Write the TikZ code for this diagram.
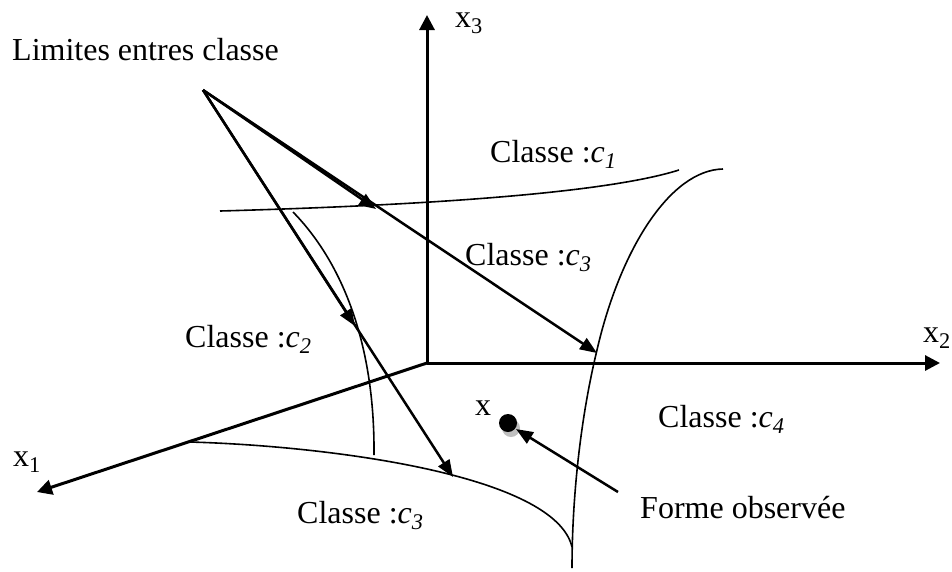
\documentclass[tikz,border=0pt]{standalone}
\usepackage{fontspec}
\setmainfont{Liberation Serif}
\usetikzlibrary{arrows.meta}
\begin{document}
\begin{tikzpicture}[x=1pt,y=-1pt,
  lbl/.style={inner sep=0pt,anchor=base west,font=\fontsize{32}{38}\selectfont},
  axis/.style={line width=3pt,-{Triangle[length=15pt,width=15pt]}},
  pointer/.style={line width=2.5pt,-{Triangle[length=17pt,width=13pt]}},
  bound/.style={line width=1.6pt}]
\useasboundingbox (0,0) rectangle (952,571);
% axes
\coordinate (O) at (427,363);
\coordinate (X1) at (37,492);
\coordinate (X2) at (940,363);
\coordinate (X3) at (427,15);
\draw[axis] (O) -- (X3);
\draw[axis] (O) -- (X2);
\draw[axis] (O) -- (X1);
% boundaries
\draw[bound] (220,211) .. controls (400,206) and (600,195) .. (679,170);
\draw[bound] (723,169) .. controls (670,170) and (620,250) .. (597,350)
                         .. controls (580,420) and (572,500) .. (572,568);
\draw[bound] (293,212) .. controls (340,260) and (375,340) .. (374,455);
\draw[bound] (190,442) .. controls (330,446) and (555,475) .. (572,547);
% labels
\node[lbl] (lim) at (12,60) {Limites entres classe};
\node[lbl] (l3) at (455,27) {x\textsubscript{3}};
\node[lbl] (l2) at (923,342) {x\textsubscript{2}};
\node[lbl] (l1) at (13,466) {x\textsubscript{1}};
\node[lbl] (c1) at (490,162) {Classe :\textit{c\textsubscript{1}}};
\node[lbl] (c3a) at (465,265) {Classe :\textit{c\textsubscript{3}}};
\node[lbl] (c2) at (185,347) {Classe :\textit{c\textsubscript{2}}};
\node[lbl] (c4) at (658,427) {Classe :\textit{c\textsubscript{4}}};
\node[lbl] (c3b) at (297,523) {Classe :\textit{c\textsubscript{3}}};
\node[lbl] (fo) at (640,518) {Forme observée};
\node[lbl] (xl) at (475,415) {x};
% observed point
\fill[black!25] (511,428) circle[radius=9];
\node[circle,fill=black,inner sep=0pt,minimum size=18pt] (pt) at (508,423) {};
% pointers
\coordinate (src) at (203,90);
\coordinate (t1) at (376,209);
\coordinate (t2) at (597,353);
\coordinate (t3) at (355,326);
\coordinate (t4) at (453,477);
\coordinate (ftail) at (618,492);
\coordinate (ftip) at (516,429);
\draw[pointer] (src) -- (t1);
\draw[pointer] (src) -- (t2);
\draw[pointer] (src) -- (t3);
\draw[pointer] (src) -- (t4);
\draw[pointer] (ftail) -- (ftip);
\end{tikzpicture}
\end{document}
